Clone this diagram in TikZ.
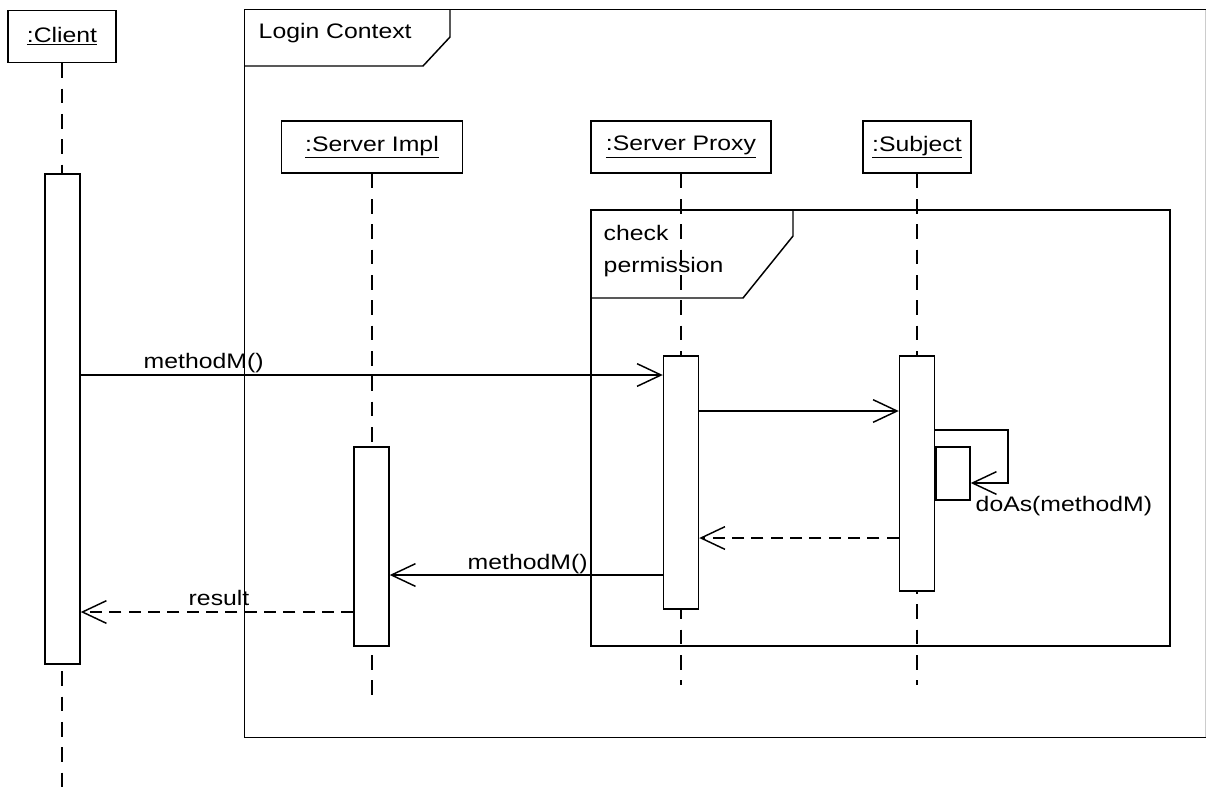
\documentclass[tikz,border=0pt]{standalone}
\usepackage{fontspec}
\setmainfont{Liberation Sans}[FakeStretch=1.18]
\usetikzlibrary{arrows.meta}
\begin{document}
\begin{tikzpicture}[x=0.75pt,y=-0.75pt, line width=1.1pt,
  every node/.style={font=\fontsize{15.75}{19}\selectfont},
  head/.style={draw, fill=white, minimum height=39pt, inner sep=0},
  act/.style={draw, fill=white, minimum width=26.25pt, inner sep=0},
  life/.style={dash pattern=on 11pt off 8pt},
  msg/.style={-{Straight Barb[length=18pt,width=17pt]}},
  ret/.style={msg, dash pattern=on 9pt off 5.5pt},
  lbl/.style={anchor=base west, inner sep=0},
  framebox/.style={draw, inner sep=0}]
\useasboundingbox (0,0) rectangle (1206,790);

% outer frame (clipped at the right edge)
\node[inner sep=0, minimum width=720.75pt, minimum height=545.25pt] (login) at (725.5,373.5) {};
\draw (login.north east) -- (login.north west) -- (login.south west) -- (login.south east);
\draw[line width=0.6pt, gray!40] (1205.3,10) -- (1205.3,737);
\draw (450,10) -- (450,37) -- (423,66) -- (245,66);
\node[lbl] (loginlbl) at (258,38) {Login Context};

\node[framebox, minimum width=434.25pt, minimum height=327pt] (check) at (880.5,428) {};
\draw (793,210) -- (793,236) -- (743,298) -- (591,298);
\node[lbl] (checklbl1) at (603,240) {check};
\node[lbl] (checklbl2) at (603,272) {permission};

% heads
\node[head, minimum width=81pt] (hC) at (62,36.5) {\underline{:Client}};
\node[head, minimum width=135.75pt] (hI) at (372,147) {\underline{:Server Impl}};
\node[head, minimum width=135pt] (hP) at (681,147) {\underline{:Server Proxy}};
\node[head, minimum width=81pt] (hS) at (917,147) {\underline{:Subject}};

% end coordinates of lifelines
\coordinate (eC) at (62,790);
\coordinate (eI) at (372,703);
\coordinate (eP) at (681,685);
\coordinate (eS) at (917,685);

% activation positions
\coordinate (pC) at (62.5,419);
\coordinate (pI) at (371.5,546.5);
\coordinate (pP) at (681,482.5);
\coordinate (pS) at (917,473.5);

% lifelines
\draw[life] (hC.south) -- (eC);
\draw[life] (hI.south) -- (eI);
\draw[life] (hP.south) -- (eP);
\draw[life] (hS.south) -- (eS);

% activations
\node[act, minimum height=367.5pt] (aC) at (pC) {};
\node[act, minimum height=149.25pt] (aI) at (pI) {};
\node[act, minimum height=189.75pt] (aP) at (pP) {};
\node[act, minimum height=176.25pt] (aS) at (pS) {};
\node[act, minimum width=25.5pt, minimum height=39.75pt] (aN) at (953,473.5) {};

% message levels
\coordinate (y1) at (0,375);
\coordinate (y2) at (0,411);
\coordinate (y3) at (0,430);
\coordinate (y4) at (0,483);
\coordinate (y5) at (0,538);
\coordinate (y6) at (0,575);
\coordinate (y7) at (0,612);
\coordinate (loopA) at (1008,430);
\coordinate (loopB) at (1008,483);

% messages
\draw[msg] (aC.east |- y1) -- (aP.west |- y1);
\node[lbl] (m1) at (143,368) {methodM()};
\draw[msg] (aP.east |- y2) -- (aS.west |- y2);
\draw[msg] (aS.east |- y3) -- (loopA) -- (loopB) -- (aN.east |- y4);
\node[lbl] (m2) at (975,511) {doAs(methodM)};
\draw[ret] (aS.west |- y5) -- (aP.east |- y5);
\draw[msg] (aP.west |- y6) -- (aI.east |- y6);
\node[lbl] (m3) at (467,569) {methodM()};
\draw[ret] (aI.west |- y7) -- (aC.east |- y7);
\node[lbl] (m4) at (188,605) {result};
\end{tikzpicture}
\end{document}
